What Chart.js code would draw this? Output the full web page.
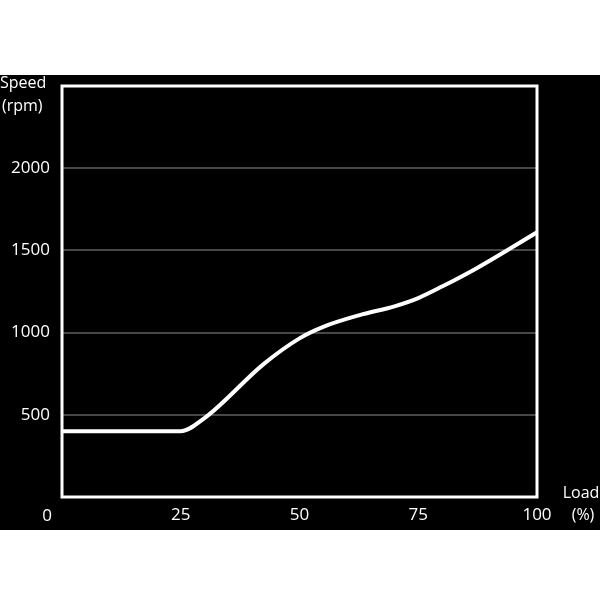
<!DOCTYPE html>
<html>
<head>
<meta charset="utf-8">
<script src="https://cdn.jsdelivr.net/npm/chart.js@4"></script>
<style>
    body { margin: 0; background: #fff; }
    #wrap { position: absolute; left: 0; top: 75px; width: 600px; height: 455px; background: #000; }
</style>
</head>
<body>
<div id="wrap"><canvas id="speed-chart" width="600" height="455"></canvas></div>
<script>
const loadValues = [0, 25, 30, 42.5, 50, 55, 62.5, 70, 75, 80, 87.5, 100];
const speedValues = [400, 400, 480, 810, 965, 1035, 1105, 1160, 1210, 1280, 1395, 1610];
const xTicks = [0, 25, 50, 75, 100];
const yTicks = [500, 1000, 1500, 2000];

document.addEventListener('DOMContentLoaded', function () {
    const fontFamily = '"Open Sans", sans-serif';

    // white frame round the plot + the corner labels
    const framePlugin = {
        id: 'frame',
        afterDatasetsDraw(chart) {
            const ctx = chart.ctx;
            const a = chart.chartArea;
            ctx.save();
            ctx.strokeStyle = '#fff';
            ctx.lineWidth = 3;
            ctx.strokeRect(a.left, a.top, a.right - a.left, a.bottom - a.top);
            ctx.fillStyle = '#fff';
            ctx.font = '16px ' + fontFamily;
            ctx.textAlign = 'left';
            ctx.textBaseline = 'middle';
            ctx.fillText('Speed', 0, 8);
            ctx.fillText('(rpm)', 2, 31);
            ctx.textAlign = 'center';
            ctx.fillText('Load', 581, 418);
            ctx.fillText('(%)', 583, 440);
            ctx.font = '17px ' + fontFamily;
            ctx.fillText('0', chart.scales.x.getPixelForValue(0) - 15, 441);
            ctx.restore();
        }
    };

    const ctx = document.getElementById('speed-chart').getContext('2d');
    new Chart(ctx, {
        type: 'line',
        data: {
            datasets: [{
                data: loadValues.map((x, i) => ({ x: x, y: speedValues[i] })),
                borderColor: '#fff',
                borderWidth: 4,
                pointRadius: 0,
                cubicInterpolationMode: 'monotone',
                fill: false
            }]
        },
        options: {
            responsive: false,
            animation: false,
            layout: { padding: { top: 11, right: 63, left: 0, bottom: 0 } },
            plugins: { legend: { display: false }, tooltip: { enabled: false } },
            scales: {
                x: {
                    type: 'linear',
                    min: 0,
                    max: 100,
                    afterBuildTicks: s => { s.ticks = xTicks.map(v => ({ value: v })); },
                    afterFit: s => { s.height = 33; s.paddingLeft = 0; s.paddingRight = 0; },
                    grid: { display: false, drawTicks: false },
                    border: { display: false },
                    ticks: {
                        color: '#fff',
                        padding: 8,
                        maxRotation: 0,
                        font: { family: fontFamily, size: 17 },
                        callback: v => v === 0 ? '' : String(v)
                    }
                },
                y: {
                    min: 0,
                    max: 2500,
                    afterBuildTicks: s => { s.ticks = yTicks.map(v => ({ value: v })); },
                    afterFit: s => { s.width = 62; s.paddingTop = 0; s.paddingBottom = 0; },
                    grid: { color: 'rgba(255,255,255,0.28)', lineWidth: 2, drawTicks: false },
                    border: { display: false },
                    ticks: {
                        color: '#fff',
                        padding: 12,
                        font: { family: fontFamily, size: 17 },
                        callback: v => String(v)
                    }
                }
            }
        },
        plugins: [framePlugin]
    });
});
</script>
</body>
</html>
